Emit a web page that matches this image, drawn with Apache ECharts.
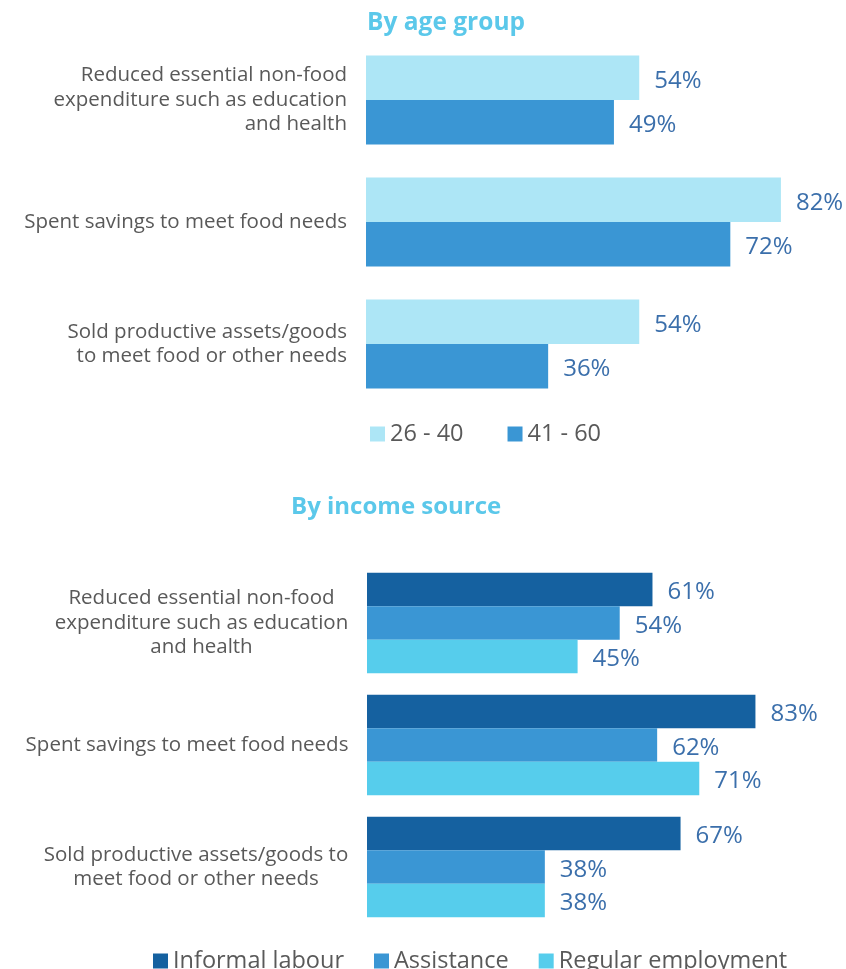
<!DOCTYPE html>
<html>
<head>
<meta charset="utf-8">
<script src="https://cdn.jsdelivr.net/npm/echarts@6/dist/echarts.min.js"></script>
<style>html,body{margin:0;padding:0;background:#fff;}#c{width:846px;height:969px;}</style>
</head>
<body>
<div id="c"></div>
<script>
const ageCategories = [
  "Reduced essential non-food\nexpenditure such as education\nand health",
  "Spent savings to meet food needs",
  "Sold productive assets/goods\nto meet food or other needs"
];
const incomeCategories = [
  "Reduced essential non-food\nexpenditure such as education\nand health",
  "Spent savings to meet food needs",
  "Sold productive assets/goods to\nmeet food or other needs"
];
const age26to40 = [54, 82, 54];
const age41to60 = [49, 72, 36];
const informalLabour = [61, 83, 67];
const assistance = [54, 62, 38];
const regularEmployment = [45, 71, 38];
const titles = ["By age group", "By income source"];

const FONT = "Open Sans";
const LABEL_SIZE = 20.5;
const cv = document.createElement('canvas').getContext('2d');
cv.font = LABEL_SIZE + 'px "' + FONT + '"';
function blockWidth(s){ return Math.max(...s.split('\n').map(l => cv.measureText(l).width)); }

const rich = {};
incomeCategories.forEach((c, i) => {
  rich['c' + i] = { width: Math.ceil(blockWidth(c)) + 1, align: 'center', fontFamily: FONT, fontSize: LABEL_SIZE, color: '#595959', lineHeight: 24.5 };
});

const valueLabel = { show: true, position: 'right', distance: 15, offset: [0, 3], formatter: '{c}%', color: '#3b6fab', fontFamily: FONT, fontSize: 24 };

const chart = echarts.init(document.getElementById('c'));
chart.setOption({
  animation: false,
  title: [
    { text: titles[0], left: 367, top: 11, padding: 0, textStyle: { color: '#5bc8ea', fontFamily: FONT, fontWeight: 'bold', fontSize: 24.5 } },
    { text: titles[1], left: 291, top: 495, padding: 0, textStyle: { color: '#5bc8ea', fontFamily: FONT, fontWeight: 'bold', fontSize: 24 } }
  ],
  legend: [
    { data: ['26 - 40', '41 - 60'], left: 365, top: 417, itemWidth: 15, itemHeight: 15, itemGap: 44, icon: 'rect',
      textStyle: { color: '#595959', fontFamily: FONT, fontSize: 23.5 } },
    { data: ['Informal labour', 'Assistance', 'Regular employment'], left: 148, top: 944, itemWidth: 15, itemHeight: 15, itemGap: 30, icon: 'rect',
      textStyle: { color: '#595959', fontFamily: FONT, fontSize: 23.5 } }
  ],
  grid: [
    { left: 366, top: 39, width: 506, height: 366, outerBoundsMode: 'none' },
    { left: 367, top: 562, width: 468, height: 366, outerBoundsMode: 'none' }
  ],
  xAxis: [
    { gridIndex: 0, type: 'value', min: 0, max: 100, show: false },
    { gridIndex: 1, type: 'value', min: 0, max: 100, show: false }
  ],
  yAxis: [
    { gridIndex: 0, type: 'category', data: ageCategories, inverse: true,
      axisLine: { show: false }, axisTick: { show: false },
      axisLabel: { margin: 19, align: 'right', color: '#595959', fontFamily: FONT, fontSize: LABEL_SIZE, lineHeight: 24.5 } },
    { gridIndex: 1, type: 'category', data: incomeCategories, inverse: true,
      axisLine: { show: false }, axisTick: { show: false },
      axisLabel: { margin: 18, align: 'right', color: '#595959', fontFamily: FONT, fontSize: LABEL_SIZE, lineHeight: 24.5,
        formatter: (v, i) => v.split('\n').map(l => '{c' + i + '|' + l + '}').join('\n'), rich: rich } }
  ],
  series: [
    { name: '26 - 40', type: 'bar', xAxisIndex: 0, yAxisIndex: 0, data: age26to40, itemStyle: { color: '#ade6f6' }, barGap: '0%', barCategoryGap: '27%', label: valueLabel },
    { name: '41 - 60', type: 'bar', xAxisIndex: 0, yAxisIndex: 0, data: age41to60, itemStyle: { color: '#3a96d4' }, barGap: '0%', barCategoryGap: '27%', label: valueLabel },
    { name: 'Informal labour', type: 'bar', xAxisIndex: 1, yAxisIndex: 1, data: informalLabour, itemStyle: { color: '#1561a0' }, barGap: '0%', barCategoryGap: '17.6%', label: valueLabel },
    { name: 'Assistance', type: 'bar', xAxisIndex: 1, yAxisIndex: 1, data: assistance, itemStyle: { color: '#3a96d4' }, barGap: '0%', barCategoryGap: '17.6%', label: valueLabel },
    { name: 'Regular employment', type: 'bar', xAxisIndex: 1, yAxisIndex: 1, data: regularEmployment, itemStyle: { color: '#56cdec' }, barGap: '0%', barCategoryGap: '17.6%', label: valueLabel }
  ]
});
</script>
</body>
</html>
